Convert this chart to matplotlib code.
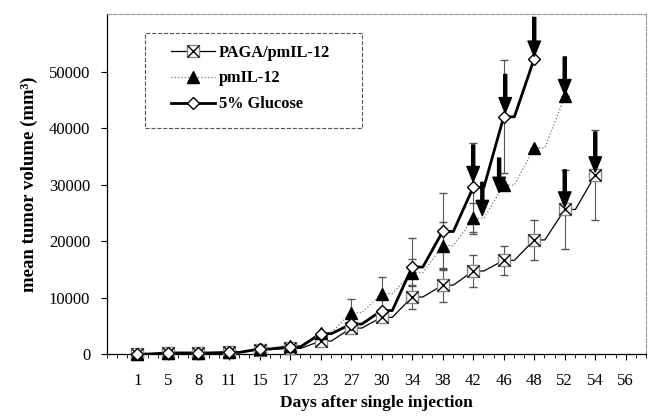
import numpy as np
import matplotlib
matplotlib.use("Agg")
import matplotlib.pyplot as plt
from matplotlib.lines import Line2D
from matplotlib.patches import Rectangle

plt.rcParams['font.family'] = ['Liberation Serif', 'DejaVu Serif']

# days (categorical x axis)
days = ['1', '5', '8', '11', '15', '17', '23', '27', '30', '34', '38', '42', '46', '48', '52', '54', '56']

# mean tumor volume (mm^3) per group
paga = [0, 200, 200, 300, 800, 1000, 2300, 4600, 6500, 10100, 12200, 14700, 16600, 20200, 25600, 31700]
paga_err = [0, 0, 0, 0, 0, 0, 0, 0, 700, 2200, 3000, 2800, 2600, 3500, 7000, 8000]

pmil = [0, 200, 200, 300, 900, 1400, 3800, 7300, 10700, 14400, 19200, 24000, 29900, 36500, 45600]
pmil_err = [0, 0, 0, 0, 0, 0, 0, 2500, 3000, 2400, 4100, 2700, 0, 0, 0]

gluc = [0, 200, 200, 300, 900, 1300, 3600, 5300, 7700, 15400, 21700, 29500, 42000, 52300]
gluc_err = [0, 0, 0, 0, 0, 0, 0, 0, 0, 5200, 6800, 7900, 10000, 0]

# arrows: x position (index), arrow start, arrow tip
arrow_x = [11.0, 11.3, 11.85, 12.05, 13.0, 14.0, 14.0, 15.0]
arrow_top = [37000, 30400, 34700, 49500, 59600, 52600, 32600, 39300]
arrow_tip = [30500, 24500, 28600, 42700, 52700, 45900, 26000, 32200]


def stepped(y, off=0.35):
    # the original draws a short flat piece right of each marker
    x = np.arange(len(y))
    xs = np.ravel(np.column_stack([x, x + off]))[:-1]
    ys = np.repeat(y, 2)[:-1]
    return xs, ys


fig = plt.figure(figsize=(6.52, 4.18), dpi=100)
ax = fig.add_axes([0.164, 0.153, 0.827, 0.8135])

xp = np.arange(len(paga))
xm = np.arange(len(pmil))
xg = np.arange(len(gluc))

# error bars
ax.errorbar(xg, gluc, yerr=gluc_err, fmt='none', ecolor='#555555', elinewidth=0.8, capsize=3, zorder=2)
ax.errorbar(xm, pmil, yerr=pmil_err, fmt='none', ecolor='#555555', elinewidth=0.8, capsize=3, zorder=2)
ax.errorbar(xp, paga, yerr=paga_err, fmt='none', ecolor='#555555', elinewidth=0.8, capsize=3, zorder=2)

# lines
sx, sy = stepped(pmil)
ax.plot(sx, sy, color='#777777', lw=0.9, ls=':', zorder=3)
sx, sy = stepped(paga)
ax.plot(sx, sy, color='black', lw=0.9, zorder=3)
sx, sy = stepped(gluc)
ax.plot(sx, sy, color='black', lw=2.0, zorder=3)

# markers
ax.plot(xp, paga, ls='none', marker='s', ms=9, mfc='white', mec='#888888', mew=1.0, zorder=4, clip_on=False)
ax.plot(xp, paga, ls='none', marker='x', ms=9, mec='black', mew=1.0, zorder=5, clip_on=False)
ax.plot(xm, pmil, ls='none', marker='^', ms=8, mfc='black', mec='black', zorder=5, clip_on=False)
ax.plot(xg, gluc, ls='none', marker='D', ms=6, mfc='white', mec='black', mew=1.0, zorder=6, clip_on=False)

for x, y0, y1 in zip(arrow_x, arrow_top, arrow_tip):
    ax.annotate('', xy=(x, y1), xytext=(x, y0),
                arrowprops=dict(facecolor='black', edgecolor='black', width=2.2,
                                headwidth=9, headlength=11, shrink=0),
                zorder=7, annotation_clip=False)

# legend
h1 = (Line2D([], [], color='black', lw=0.9, marker='s', ms=9, mfc='white', mec='#888888'),
      Line2D([], [], ls='none', marker='x', ms=9, mec='black'))
h2 = Line2D([], [], color='#777777', lw=0.9, ls=':', marker='^', ms=8, mfc='black', mec='black')
h3 = Line2D([], [], color='black', lw=2.0, marker='D', ms=6, mfc='white', mec='black')
leg = ax.legend([h1, h2, h3], ['PAGA/pmIL-12', 'pmIL-12', '5% Glucose'],
                loc='upper left', bbox_to_anchor=(0.118, 0.91), borderaxespad=0, borderpad=0,
                frameon=False, handlelength=2.7, labelspacing=0.6,
                prop=dict(weight='bold', size=11.8), handletextpad=0.25)
ax.add_patch(Rectangle((0.0705, 0.665), 0.403, 0.279, transform=ax.transAxes,
                       fill=False, ec='#555555', ls='--', lw=0.8, zorder=8))

ax.set_xlim(-0.21, 16.15)
ax.set_ylim(0, 60200)
ax.set_xticks(np.arange(len(days)))
ax.set_xticklabels(days)
ax.set_xticks(np.arange(-1, 17, 1 / 3), minor=True)
ax.set_yticks(np.arange(0, 50001, 10000))
ax.tick_params(axis='both', labelsize=12, length=4, width=0.8)
ax.tick_params(axis='x', which='major', direction='out', pad=10)
ax.tick_params(axis='x', which='minor', direction='out', length=3, width=0.6)
ax.tick_params(axis='y', pad=8)

for s in ['top', 'right']:
    ax.spines[s].set_linestyle('--')
    ax.spines[s].set_color('#999999')
    ax.spines[s].set_linewidth(0.8)
ax.spines['left'].set_linewidth(0.9)
ax.spines['bottom'].set_linewidth(0.9)

ax.set_xlabel('Days after single injection', fontsize=12.5, fontweight='bold', labelpad=4)
ax.set_ylabel('mean tumor volume (mm³)', fontsize=13.5, fontweight='bold', labelpad=8)

fig.savefig('out.png', dpi=100)
